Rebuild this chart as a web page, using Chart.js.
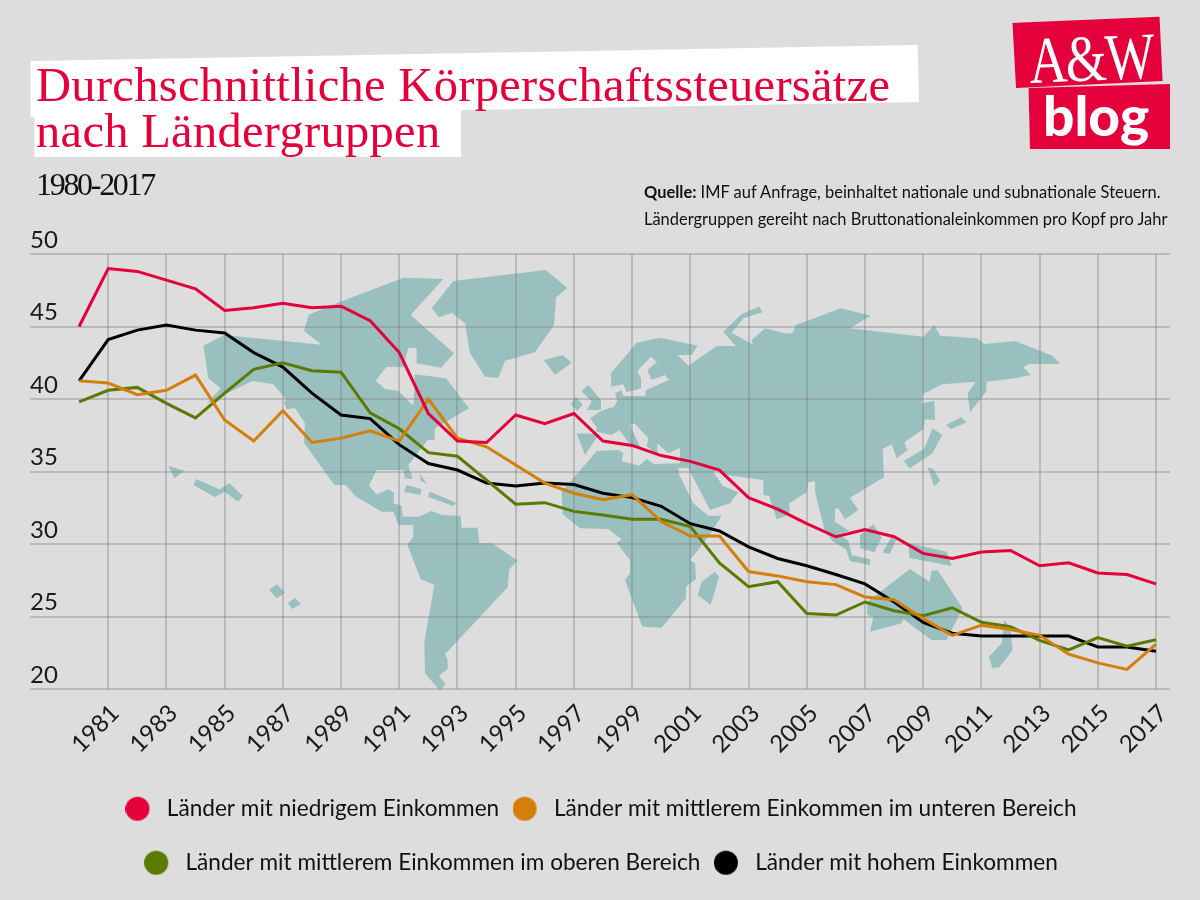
<!DOCTYPE html>
<html lang="de">
<head>
<meta charset="utf-8">
<title>Durchschnittliche Körperschaftssteuersätze</title>
<script src="https://cdn.jsdelivr.net/npm/chart.js@4"></script>
<style>
html,body{margin:0;padding:0;width:1200px;height:900px;background:#dddddd;overflow:hidden}
#deco{position:absolute;left:0;top:0}
#c{position:absolute;left:0;top:0}
.t{position:absolute;white-space:nowrap;margin:0}
.title{font-family:"Liberation Serif",serif;font-size:48.5px;line-height:46px;color:#e4003a;left:36px;letter-spacing:.3px}
#sub{font-family:"Liberation Serif",serif;font-size:32px;line-height:32px;color:#111;left:36px;top:168px;letter-spacing:-2.3px}
.src{font-family:Lato,sans-serif;font-size:16.45px;line-height:20px;color:#111;left:644px}
#aw{font-family:"Liberation Serif",serif;font-size:66px;line-height:66px;color:#fff;left:1029px;top:28px;transform:rotate(-2.5deg) scaleX(.8);transform-origin:0 50%;letter-spacing:-2px}
#blog{font-family:Lato,sans-serif;font-weight:900;font-size:55px;line-height:58px;color:#fff;left:1043px;top:86px}
</style>
</head>
<body>
<svg id="deco" width="1200" height="900">
  <polygon fill="#ffffff" points="30.6,61 917.6,45 919,102 461,110 461,157 34.4,157 34.4,117 30.6,117"/>
  <polygon fill="#e4003a" points="1012.5,23 1159.5,16.7 1162.6,81 1016,88"/>
  <polygon fill="#e4003a" points="1028.6,88 1170,84 1170,149 1030,149"/>
</svg>
<canvas id="c" width="1200" height="900"></canvas>
<h1 class="t title" style="top:62px;font-weight:400">Durchschnittliche Körperschaftssteuersätze</h1>
<div class="t title" style="top:108px">nach Ländergruppen</div>
<div class="t" id="sub">1980-2017</div>
<div class="t src" style="top:182px"><b>Quelle:</b> IMF auf Anfrage, beinhaltet nationale und subnationale Steuern.</div>
<div class="t src" style="top:209px">Ländergruppen gereiht nach Bruttonationaleinkommen pro Kopf pro Jahr</div>
<div class="t" id="aw">A&amp;W</div>
<div class="t" id="blog">blog</div>
<script>
const years = [1980,1981,1982,1983,1984,1985,1986,1987,1988,1989,1990,1991,1992,1993,1994,1995,1996,1997,1998,1999,2000,2001,2002,2003,2004,2005,2006,2007,2008,2009,2010,2011,2012,2013,2014,2015,2016,2017];
const xTickYears = [1981,1983,1985,1987,1989,1991,1993,1995,1997,1999,2001,2003,2005,2007,2009,2011,2013,2015,2017];
const low = [45.0,49.0,48.8,48.2,47.6,46.1,46.3,46.6,46.3,46.4,45.4,43.2,39.0,37.1,37.0,38.9,38.3,39.0,37.1,36.8,36.1,35.7,35.1,33.2,32.4,31.4,30.5,31.0,30.5,29.35,29.0,29.45,29.55,28.5,28.7,28.0,27.9,27.25];
const lowerMiddle = [41.25,41.1,40.3,40.6,41.65,38.55,37.1,39.2,37.0,37.3,37.8,37.1,40.0,37.3,36.7,35.45,34.2,33.5,33.05,33.4,31.55,30.55,30.55,28.1,27.8,27.4,27.2,26.35,26.15,24.85,23.7,24.4,24.1,23.7,22.4,21.8,21.35,23.1];
const upperMiddle = [39.8,40.6,40.8,39.7,38.7,40.4,42.05,42.5,41.95,41.85,39.05,37.95,36.3,36.05,34.4,32.75,32.85,32.25,32.0,31.7,31.7,31.2,28.7,27.05,27.4,25.2,25.1,26.0,25.4,25.05,25.6,24.6,24.3,23.35,22.7,23.55,22.95,23.4];
const high = [41.25,44.1,44.75,45.1,44.75,44.55,43.2,42.2,40.4,38.9,38.65,36.85,35.55,35.1,34.2,34.0,34.2,34.1,33.5,33.2,32.6,31.4,30.9,29.8,29.0,28.5,27.9,27.25,26.0,24.6,23.85,23.65,23.65,23.65,23.65,22.9,22.9,22.6];
const seriesLabels = ["Länder mit niedrigem Einkommen","Länder mit mittlerem Einkommen im unteren Bereich","Länder mit mittlerem Einkommen im oberen Bereich","Länder mit hohem Einkommen"];
const seriesColors = ["#e4003a","#d37f0a","#5a7a00","#000000"];
const seriesValues = [low,lowerMiddle,upperMiddle,high];

/* decorative world map, each part traced in a local zoomed frame: [offsetX, offsetY, flat points] */
const MAP_COLOR = "#9abfbf";
const eurasiaAfrica = [
 [540,290,[150,385,183,363,222,350,232,332,225,310,245,300,250,318,315,318,318,300,387,270,375,255,335,270,322,240,350,217,333,200,292,243,303,265,303,295,260,307,250,283,213,290,213,250,290,158,360,143,473,167,455,195,413,195,445,227,530,168,587,168,550,125,605,72,658,50,667,67,610,85,575,128,640,165,635,150,675,115,735,130,757,130,768,105]],
 [780,290,[183,55,272,77,210,115,430,140,463,105,480,137,590,145,613,162,705,153,818,197,840,222,745,222,730,232,752,255,705,265,620,275,618,305,570,367,563,310,587,275,487,283,428,313,425,340,463,333,465,390,435,388,430,418,373,457,382,480,350,505,335,463,308,477,312,562]],
 [780,460,[210,113,235,150,195,178,175,145,165,147,165,185,208,213,176,222,205,242,215,285,270,298,270,315,210,303,198,268,160,245,135,215,105,95,105,63,85,67,80,97,28,130,28,170]],
 [400,380,[1165,405,1130,418,1107,348,1090,345]],
 [540,290,[670,570,560,555,530,540,520,545,548,587,595,607,570,640,510,660,445,535,415,533]],
 [400,380,[838,285,880,370,925,407,965,407,925,470,870,540,885,550,888,597,858,620,858,655,785,743,727,740,675,600,690,580,690,540,650,488,665,478,625,447,540,445,488,403,485,335,590,213]],
 [540,290,[235,480,250,490,245,513,297,527,320,507,340,522,420,520,420,473,385,490,352,460,352,495,320,468,325,445,283,400,270,405,300,470,275,470,238,420,215,435,205,433,168,425,170,412]]
];
const americas = [
 [190,260,[40,257,103,225,395,254,342,213,355,165,440,130,640,53,760,57,662,165,792,280,753,323,680,310,680,265,655,263,640,322,590,320,557,362,585,387,625,393,670,437,675,343,768,355,837,445,735,505,733,540,713,540,655,615,640,630,560,630,537,677,560,703,597,688,612,700,610,730,635,737,638,770,685,770,725,753,755,765,812,768,815,803,863,803,868,850,905,850]],
 [380,470,[340,222,413,272,388,297,383,352,195,553,203,570,203,597,177,617,197,643,180,662,135,610,133,515,163,345,122,327,82,225,100,200,100,165,55,165,40,125]],
 [190,260,[575,755,495,708,468,675,433,675,342,548,345,490,315,445,290,448,282,425,290,420,250,373,187,363,70,420,50,432,92,385,55,355]]
];
const islands = [
 [[0,230,[580,765,588,747,658,778,688,760,728,797,715,815,673,785,645,802]]],
 [[0,230,[505,707,553,722,523,745]]],
 [[190,260,[725,145,790,63,1067,30,1132,83,1098,113,1092,195,1035,277,945,302,925,353,885,350,840,280,825,190,785,158,747,172]]],
 [[190,260,[1062,300,1118,285,1145,308,1095,345]]],
 [[190,260,[642,695,650,675,695,688,690,705]]],
 [[190,260,[713,710,720,695,798,728,790,738]]],
 [[190,260,[655,615,668,657,645,655,640,630]]],
 [[190,260,[690,643,712,672,692,662]]],
 [[540,290,[125,303,145,285,183,330,183,360,140,360,155,335]]],
 [[540,290,[92,343,108,320,128,345,112,363]]],
 [[540,290,[110,430,178,432,135,495]]],
 [[780,290,[457,415,487,435,457,490,390,535,370,513,433,477]]],
 [[780,290,[498,405,543,382,560,397,512,418]]],
 [[780,290,[443,532,460,537,481,572,462,588]]],
 [[400,380,[905,605,945,575,957,590,932,675,893,645]]],
 [[780,460,[240,225,280,192,305,233,283,277,240,265]]],
 [[780,460,[307,278,335,230,348,240,330,281]]],
 [[780,460,[385,250,500,275,515,318,388,293]]],
 [[780,460,[262,425,390,327,448,365,455,333,473,330,548,445,500,540,455,540,370,478,365,490,270,515,280,470,262,465]]],
 [[780,460,[627,590,665,550,672,480,690,500,698,570,658,622,637,624]]],
 [[0,0,[807,1770,831,1752,855,1779,831,1794]]],
 [[0,0,[864,1809,885,1794,903,1812,876,1827]]]
];
function tracePart(ctx, parts){
  ctx.beginPath();
  let first = true;
  for (const [ox,oy,pts] of parts){
    for (let i=0;i<pts.length;i+=2){
      const x = ox+pts[i]/3, y = oy+pts[i+1]/3;
      if (first){ctx.moveTo(x,y);first=false;} else ctx.lineTo(x,y);
    }
  }
  ctx.closePath();
  ctx.fill();
}
const worldMap = {
  id:"worldMap",
  beforeDraw(chart){
    const ctx = chart.ctx;
    ctx.save();
    ctx.fillStyle = MAP_COLOR;
    tracePart(ctx, eurasiaAfrica);
    tracePart(ctx, americas);
    islands.forEach(p=>tracePart(ctx,p));
    ctx.restore();
  }
};
function legendDot(color){
  const k = document.createElement("canvas");
  k.width = 48; k.height = 26;
  const g = k.getContext("2d");
  g.fillStyle = color;
  g.beginPath(); g.arc(12,13,12,0,Math.PI*2); g.fill();
  return k;
}
new Chart(document.getElementById("c"),{
  type:"line",
  plugins:[worldMap],
  data:{
    datasets: seriesLabels.map((label,i)=>({
      label,
      data: years.map((yr,j)=>({x:yr,y:seriesValues[i][j]})),
      borderColor: seriesColors[i],
      backgroundColor: seriesColors[i],
      borderWidth: 3,
      tension: 0,
      pointRadius: 0,
      pointStyle: legendDot(seriesColors[i]),
      fill: false,
      clip: false
    }))
  },
  options:{
    responsive:false,
    animation:false,
    devicePixelRatio:1,
    layout:{padding:{left:30,right:30,top:254,bottom:16}},
    plugins:{
      tooltip:{enabled:false},
      legend:{
        position:"bottom",
        fullSize:false,
        labels:{
          usePointStyle:true,
          pointStyleWidth:12,
          padding:31.4,
          color:"#111111",
          font:{family:'Lato',size:22.6}
        }
      }
    },
    scales:{
      x:{
        type:"linear",
        min:1979,
        max:2017.48,
        afterBuildTicks(axis){axis.ticks = xTickYears.map(v=>({value:v}));},
        afterFit(axis){axis.height = 77;},
        border:{display:false},
        grid:{color:"rgba(120,120,120,0.34)",lineWidth:2,drawTicks:false},
        ticks:{
          autoSkip:false,minRotation:45,maxRotation:45,padding:10,labelOffset:7,
          color:"#1a1a1a",
          font:{family:'Lato',size:24},
          callback:v=>String(v)
        }
      },
      y:{
        min:20,max:50,
        afterFit(axis){axis.width = 20;},
        border:{display:false},
        grid:{color:"rgba(120,120,120,0.34)",lineWidth:2,tickLength:20,drawTicks:true},
        ticks:{
          stepSize:5,mirror:true,padding:-20,labelOffset:-14,
          color:"#1a1a1a",
          font:{family:'Lato',size:24}
        }
      }
    }
  }
});
</script>
</body>
</html>
